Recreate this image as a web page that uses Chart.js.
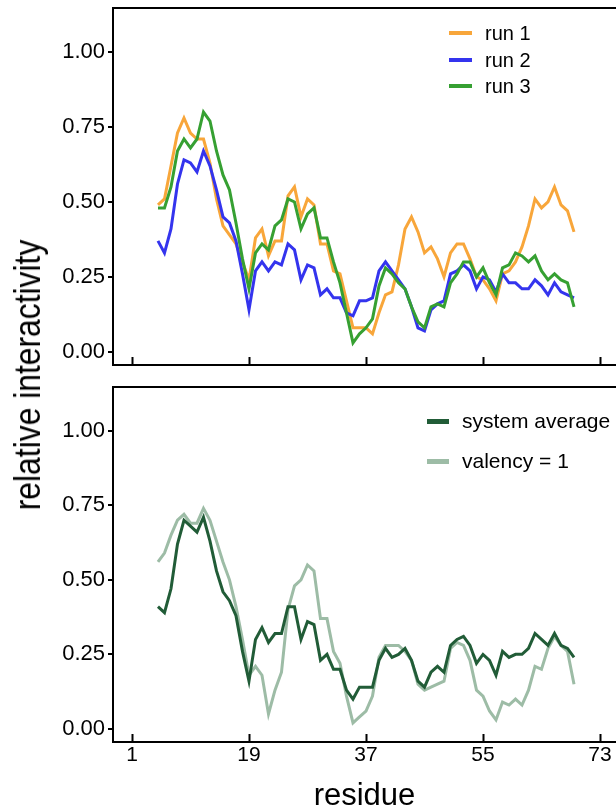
<!DOCTYPE html>
<html>
<head>
<meta charset="utf-8">
<title>relative interactivity per residue</title>
<script src="https://cdn.jsdelivr.net/npm/chart.js@4.4.0/dist/chart.umd.min.js"></script>
<style>
  body { margin: 0; background: #fff; }
  #wrap { position: relative; width: 616px; height: 812px; overflow: hidden;
          font-family: 'Liberation Sans', Arial, sans-serif; color: #000; }
  #topBox { position: absolute; left: 0; top: 0; width: 616px; height: 380px; }
  #bottomBox { position: absolute; left: 0; top: 380px; width: 616px; height: 432px; }
  #yTitle { position: absolute; left: 28px; top: 375px; white-space: nowrap;
            transform: translate(-50%, -50%) rotate(-90deg) scaleX(0.86); font-size: 37px; }
  .legRow { position: absolute; height: 26px; line-height: 26px; white-space: nowrap; }
  .legRow span.sw { position: absolute; left: 0; }
</style>
</head>
<body>
<div id="wrap">
  <div id="topBox"><canvas id="topChart"></canvas></div>
  <div id="bottomBox"><canvas id="bottomChart"></canvas></div>
  <div id="yTitle">relative interactivity</div>
</div>
<script>
// residue positions
const residues = [5, 6, 7, 8, 9, 10, 11, 12, 13, 14,
                  15, 16, 17, 18, 19, 20, 21, 22, 23, 24,
                  25, 26, 27, 28, 29, 30, 31, 32, 33, 34,
                  35, 36, 37, 38, 39, 40, 41, 42, 43, 44,
                  45, 46, 47, 48, 49, 50, 51, 52, 53, 54,
                  55, 56, 57, 58, 59, 60, 61, 62, 63, 64,
                  65, 66, 67, 68, 69];
const xTickValues = [1, 19, 37, 55, 73];
const yTickValues = [0, 0.25, 0.5, 0.75, 1];

// top panel: three independent runs
const run1 = [0.49, 0.51, 0.62, 0.73, 0.78, 0.73, 0.71, 0.71, 0.63, 0.51,
              0.42, 0.39, 0.36, 0.30, 0.24, 0.38, 0.41, 0.32, 0.37, 0.37,
              0.52, 0.55, 0.45, 0.51, 0.49, 0.36, 0.36, 0.27, 0.26, 0.17,
              0.08, 0.08, 0.08, 0.06, 0.13, 0.19, 0.20, 0.29, 0.41, 0.45,
              0.40, 0.33, 0.35, 0.31, 0.25, 0.33, 0.36, 0.36, 0.31, 0.25,
              0.24, 0.21, 0.17, 0.26, 0.27, 0.30, 0.35, 0.42, 0.51, 0.48,
              0.50, 0.55, 0.49, 0.47, 0.40];
const run2 = [0.37, 0.33, 0.41, 0.56, 0.64, 0.63, 0.60, 0.67, 0.62, 0.54,
              0.45, 0.43, 0.37, 0.26, 0.14, 0.27, 0.30, 0.27, 0.30, 0.29,
              0.36, 0.34, 0.24, 0.29, 0.28, 0.19, 0.21, 0.18, 0.18, 0.13,
              0.12, 0.17, 0.17, 0.18, 0.27, 0.30, 0.27, 0.24, 0.21, 0.15,
              0.08, 0.07, 0.14, 0.16, 0.17, 0.26, 0.27, 0.29, 0.27, 0.21,
              0.25, 0.24, 0.20, 0.26, 0.23, 0.23, 0.21, 0.21, 0.24, 0.22,
              0.19, 0.23, 0.20, 0.19, 0.18];
const run3 = [0.48, 0.48, 0.55, 0.67, 0.71, 0.68, 0.71, 0.80, 0.77, 0.67,
              0.59, 0.54, 0.43, 0.31, 0.21, 0.33, 0.36, 0.34, 0.42, 0.44,
              0.51, 0.50, 0.41, 0.46, 0.48, 0.38, 0.38, 0.30, 0.23, 0.13,
              0.03, 0.06, 0.08, 0.11, 0.22, 0.28, 0.26, 0.23, 0.21, 0.15,
              0.10, 0.08, 0.15, 0.16, 0.15, 0.23, 0.26, 0.30, 0.30, 0.25,
              0.28, 0.23, 0.19, 0.28, 0.29, 0.33, 0.32, 0.30, 0.32, 0.27,
              0.24, 0.26, 0.24, 0.23, 0.15];

// bottom panel: average over the system vs. monovalent case
const systemAverage = [0.41, 0.39, 0.47, 0.62, 0.70, 0.68, 0.66, 0.71, 0.63, 0.53,
                       0.46, 0.43, 0.38, 0.26, 0.16, 0.30, 0.34, 0.29, 0.32, 0.32,
                       0.41, 0.41, 0.30, 0.36, 0.35, 0.23, 0.25, 0.20, 0.20, 0.13,
                       0.10, 0.14, 0.14, 0.14, 0.23, 0.27, 0.24, 0.25, 0.27, 0.23,
                       0.16, 0.14, 0.19, 0.21, 0.19, 0.28, 0.30, 0.31, 0.28, 0.22,
                       0.25, 0.23, 0.18, 0.26, 0.24, 0.25, 0.25, 0.27, 0.32, 0.30,
                       0.28, 0.32, 0.28, 0.27, 0.24];
const valencyOne = [0.56, 0.59, 0.65, 0.70, 0.72, 0.69, 0.69, 0.74, 0.70, 0.63,
                    0.56, 0.50, 0.41, 0.30, 0.18, 0.21, 0.18, 0.05, 0.13, 0.19,
                    0.40, 0.48, 0.50, 0.55, 0.53, 0.37, 0.37, 0.26, 0.22, 0.11,
                    0.02, 0.04, 0.06, 0.11, 0.24, 0.28, 0.28, 0.28, 0.26, 0.23,
                    0.15, 0.13, 0.14, 0.15, 0.16, 0.27, 0.29, 0.28, 0.23, 0.13,
                    0.11, 0.06, 0.03, 0.09, 0.08, 0.10, 0.08, 0.13, 0.21, 0.20,
                    0.27, 0.31, 0.28, 0.26, 0.15];

const topSeries = [
    { label: 'run 1', values: run1, color: '#f8a63a', order: 3 },
    { label: 'run 2', values: run2, color: '#3434ee', order: 2 },
    { label: 'run 3', values: run3, color: '#36a032', order: 1 }
];
const bottomSeries = [
    { label: 'system average', values: systemAverage, color: '#215c37', order: 1 },
    { label: 'valency = 1', values: valencyOne, color: '#9dbca6', order: 2 }
];

const FONT = "'Liberation Sans', Arial, sans-serif";

// box on top/left/bottom, y ticks outward, x ticks inward
const framePlugin = {
    id: 'frame',
    afterDraw(chart) {
        const { ctx, chartArea: a, scales: { x, y } } = chart;
        ctx.save();
        ctx.strokeStyle = '#000';
        ctx.lineWidth = 2;
        ctx.beginPath();
        ctx.moveTo(a.right + 2, a.top);
        ctx.lineTo(a.left, a.top);
        ctx.lineTo(a.left, a.bottom);
        ctx.lineTo(a.right + 2, a.bottom);
        xTickValues.forEach(v => {
            const px = Math.round(x.getPixelForValue(v)) + 0.5;
            ctx.moveTo(px, a.bottom);
            ctx.lineTo(px, a.bottom - 8);
        });
        yTickValues.forEach(v => {
            const py = Math.round(y.getPixelForValue(v));
            ctx.moveTo(a.left, py);
            ctx.lineTo(a.left - 5, py);
        });
        ctx.stroke();
        ctx.restore();
    }
};

function makeDatasets(series) {
    return series.map(s => ({
        label: s.label,
        data: residues.map((r, i) => ({ x: r, y: s.values[i] })),
        borderColor: s.color,
        backgroundColor: s.color,
        borderWidth: 3,
        pointRadius: 0,
        tension: 0,
        fill: false,
        order: s.order
    }));
}

function makeChart(canvasId, series, padTop, showX) {
    const ctx = document.getElementById(canvasId).getContext('2d');
    return new Chart(ctx, {
        type: 'line',
        data: { datasets: makeDatasets(series) },
        plugins: [framePlugin],
        options: {
            responsive: true,
            maintainAspectRatio: false,
            animation: false,
            layout: { padding: { top: padTop, right: 0, bottom: 0, left: 0 } },
            scales: {
                x: {
                    type: 'linear',
                    min: -1.92,
                    max: 75.46,
                    grid: { display: false, drawTicks: false },
                    border: { display: false },
                    afterBuildTicks: s => { s.ticks = xTickValues.map(v => ({ value: v })); },
                    afterFit: s => {
                        s.height = showX ? 70 : 15;
                        s.paddingLeft = 0; s.paddingRight = 0;
                    },
                    ticks: {
                        display: showX,
                        padding: 1,
                        color: '#000',
                        maxRotation: 0,
                        autoSkip: false,
                        font: { family: FONT, size: 21 }
                    },
                    title: {
                        display: showX,
                        text: 'residue',
                        color: '#000',
                        padding: { top: 0, bottom: 0 },
                        font: { family: FONT, size: 31, lineHeight: 1 }
                    }
                },
                y: {
                    min: -0.044,
                    max: 1.147,
                    grid: { display: false, drawTicks: false },
                    border: { display: false },
                    afterBuildTicks: s => { s.ticks = yTickValues.map(v => ({ value: v })); },
                    afterFit: s => {
                        s.width = 113;
                        s.paddingTop = 0; s.paddingBottom = 0;
                    },
                    ticks: {
                        padding: 8,
                        color: '#000',
                        font: { family: FONT, size: 22 },
                        callback: v => v.toFixed(2)
                    }
                }
            },
            plugins: {
                legend: { display: false },
                tooltip: { enabled: false }
            }
        }
    });
}

// legends drawn as text rows inside each panel
function addLegend(series, left, firstRowY, rowGap, fontSize, swatchW, swatchH, textGap) {
    const wrap = document.getElementById('wrap');
    series.forEach((s, i) => {
        const row = document.createElement('div');
        row.className = 'legRow';
        row.style.left = left + 'px';
        row.style.top = (firstRowY + i * rowGap - 13) + 'px';
        row.style.fontSize = fontSize + 'px';
        row.style.paddingLeft = (swatchW + textGap) + 'px';
        const sw = document.createElement('span');
        sw.className = 'sw';
        sw.style.width = swatchW + 'px';
        sw.style.height = swatchH + 'px';
        sw.style.top = (13 - swatchH / 2) + 'px';
        sw.style.background = s.color;
        row.appendChild(sw);
        row.appendChild(document.createTextNode(s.label));
        wrap.appendChild(row);
    });
}

makeChart('topChart', topSeries, 8, false);
makeChart('bottomChart', bottomSeries, 7, true);
addLegend(topSeries, 449, 33, 26.5, 20, 23, 4, 13);
addLegend(bottomSeries, 427, 421, 40, 21, 22, 5, 13);
</script>
</body>
</html>
